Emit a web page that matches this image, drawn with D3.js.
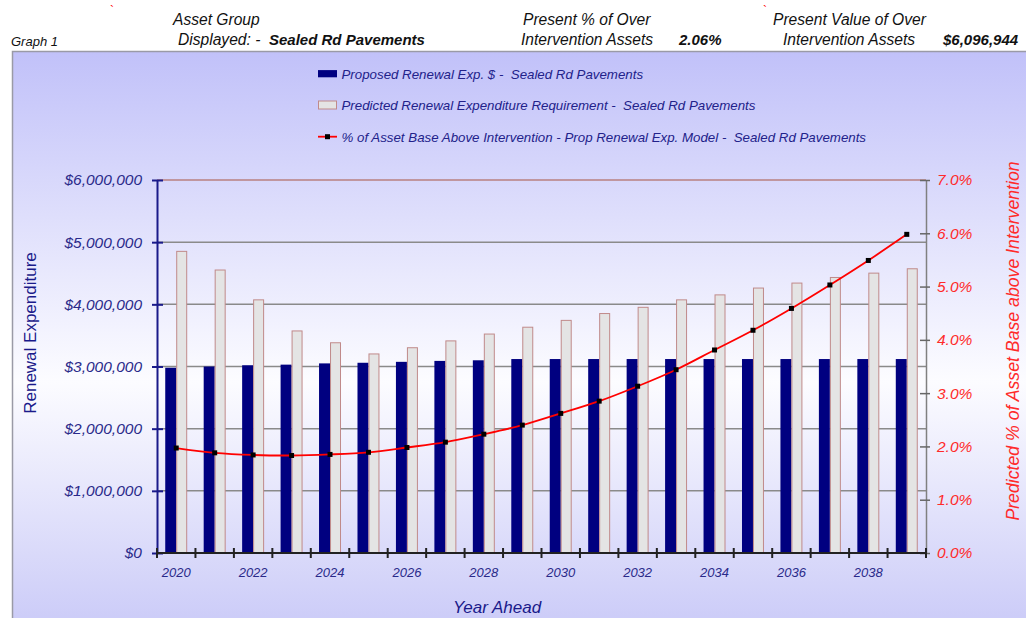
<!DOCTYPE html>
<html lang="en">
<head>
<meta charset="UTF-8">
<title>Graph 1</title>
<script src="https://d3js.org/d3.v7.min.js"></script>
<style>
  html, body { margin: 0; padding: 0; background: #fff; }
  svg { display: block; font-family: "Liberation Sans", Arial, sans-serif; }
  .hdr { font-size: 15.6px; font-style: italic; fill: #111; }
  .hdr.b { font-weight: bold; font-size: 15px; }
  .leg { font-size: 13.3px; font-style: italic; fill: #22228a; }
  .lt { font-size: 15.5px; font-style: italic; fill: #2a2a8a; }
  .rt { font-size: 15.5px; font-style: italic; fill: #ff2a2a; }
  .yr { font-size: 13px; font-style: italic; fill: #2a2a8a; }
</style>
</head>
<body>
<svg id="chart" width="1026" height="618"></svg>
<script>
// chart values
const years = d3.range(2020, 2040);
const yearLabels = years.filter(y => y % 2 === 0);
const proposed = [2.98, 3.00, 3.02, 3.03, 3.05, 3.06, 3.075, 3.09, 3.10, 3.12,
                  3.12, 3.12, 3.12, 3.12, 3.12, 3.12, 3.12, 3.12, 3.12, 3.12].map(v => v * 1e6);
const predicted = [4.86, 4.56, 4.08, 3.58, 3.39, 3.21, 3.31, 3.42, 3.53, 3.64,
                   3.75, 3.86, 3.96, 4.08, 4.16, 4.27, 4.35, 4.44, 4.51, 4.58].map(v => v * 1e6);
const pctAbove = [1.97, 1.88, 1.84, 1.83, 1.85, 1.89, 1.98, 2.08, 2.23, 2.40,
                  2.62, 2.85, 3.13, 3.44, 3.81, 4.18, 4.59, 5.03, 5.49, 5.98];
const dollarTicks = [0, 1e6, 2e6, 3e6, 4e6, 5e6, 6e6];
const pctTicks = [0, 1, 2, 3, 4, 5, 6, 7];
const legendLabels = [
  "Proposed Renewal Exp. $ -  Sealed Rd Pavements",
  "Predicted Renewal Expenditure Requirement -  Sealed Rd Pavements",
  "% of Asset Base Above Intervention - Prop Renewal Exp. Model -  Sealed Rd Pavements"
];

const svg = d3.select('#chart');
const plotL = 157, plotR = 926, plotT = 180, plotB = 553;

// background panel with gradient
const grad = svg.append('defs').append('linearGradient')
  .attr('id', 'bg').attr('x1', 0).attr('y1', 0).attr('x2', 0).attr('y2', 1);
grad.append('stop').attr('offset', '0%').attr('stop-color', '#c1c1f9');
grad.append('stop').attr('offset', '55%').attr('stop-color', '#fcfcff');
grad.append('stop').attr('offset', '100%').attr('stop-color', '#c6c6f7');

svg.append('rect')
  .attr('x', 12.5).attr('y', 51.5).attr('width', 1030).attr('height', 600)
  .attr('fill', 'url(#bg)').attr('stroke', '#9a9aa6').attr('stroke-width', 1.5);

// header
const hdr = svg.append('g');
hdr.append('text').attr('class', 'hdr').attr('x', 11).attr('y', 46).style('font-size', '13px').text('Graph  1');
hdr.append('text').attr('class', 'hdr').attr('x', 173).attr('y', 25).text('Asset Group');
hdr.append('text').attr('class', 'hdr').attr('x', 178).attr('y', 45).text('Displayed: -');
hdr.append('text').attr('class', 'hdr b').attr('x', 269).attr('y', 45).text('Sealed Rd Pavements');
hdr.append('text').attr('class', 'hdr').attr('x', 523).attr('y', 25).text('Present % of Over');
hdr.append('text').attr('class', 'hdr').attr('x', 521).attr('y', 45).text('Intervention Assets');
hdr.append('text').attr('class', 'hdr b').attr('x', 679).attr('y', 45).text('2.06%');
hdr.append('text').attr('class', 'hdr').attr('x', 773).attr('y', 25).text('Present Value of Over');
hdr.append('text').attr('class', 'hdr').attr('x', 783).attr('y', 45).text('Intervention Assets');
hdr.append('text').attr('class', 'hdr b').attr('x', 943).attr('y', 45).text('$6,096,944');
hdr.selectAll('.tick-mark').data([110, 763]).enter().append('text')
  .attr('x', d => d).attr('y', 15).attr('fill', 'red').style('font-size', '12px').text('`');

// scales
const x = d3.scaleBand().domain(years).range([plotL, plotR]).padding(0);
const xi = d3.scaleBand().domain(['proposed', 'predicted']).range([0, x.bandwidth()])
  .paddingInner(0).paddingOuter(0.75);
const yL = d3.scaleLinear().domain([0, 6e6]).range([plotB, plotT]);
const yR = d3.scaleLinear().domain([0, 7]).range([plotB, plotT]);

// gridlines
svg.append('g').selectAll('line').data(dollarTicks.filter(d => d > 0)).enter().append('line')
  .attr('x1', plotL).attr('x2', plotR)
  .attr('y1', d => yL(d)).attr('y2', d => yL(d))
  .attr('stroke', d => d === 6e6 ? '#b88080' : '#8a8a8a').attr('stroke-width', 1.5);

// bars
svg.append('g').selectAll('rect').data(years).enter().append('rect')
  .attr('x', d => x(d) + xi('proposed'))
  .attr('width', xi.bandwidth())
  .attr('y', (d, i) => yL(proposed[i]))
  .attr('height', (d, i) => plotB - yL(proposed[i]))
  .attr('fill', '#000080');

svg.append('g').selectAll('rect').data(years).enter().append('rect')
  .attr('x', d => x(d) + xi('predicted') + 0.5)
  .attr('width', xi.bandwidth() - 1)
  .attr('y', (d, i) => yL(predicted[i]) + 0.5)
  .attr('height', (d, i) => plotB - yL(predicted[i]) - 0.5)
  .attr('fill', '#e4e4e4').attr('stroke', '#c08a8a').attr('stroke-width', 1);

// line
const cx = d => x(d) + x.bandwidth() / 2;
const line = d3.line()
  .x(d => cx(d))
  .y((d, i) => yR(pctAbove[i]))
  .curve(d3.curveCatmullRom);
svg.append('path').datum(years)
  .attr('d', line).attr('fill', 'none').attr('stroke', '#ff0000').attr('stroke-width', 1.8);
svg.append('g').selectAll('rect').data(years).enter().append('rect')
  .attr('x', d => cx(d) - 2.5).attr('y', (d, i) => yR(pctAbove[i]) - 2.5)
  .attr('width', 5).attr('height', 5).attr('fill', '#000');

// left axis
const gL = svg.append('g').attr('transform', `translate(${plotL},0)`)
  .call(d3.axisLeft(yL).tickValues(dollarTicks).tickSize(0).tickPadding(15)
    .tickFormat(d => '$' + d3.format(',')(d)));
gL.attr('font-family', null).attr('font-size', null);
gL.select('.domain').attr('stroke', '#1a1a8a').attr('stroke-width', 2);
gL.selectAll('.tick text').attr('class', 'lt').attr('fill', null);
gL.selectAll('.tick').append('line').attr('x1', -5).attr('x2', 6).attr('stroke', '#1a1a8a').attr('stroke-width', 2);

// right axis
const gR = svg.append('g').attr('transform', `translate(${plotR},0)`)
  .call(d3.axisRight(yR).tickValues(pctTicks).tickSize(0).tickPadding(11)
    .tickFormat(d => d3.format('.1f')(d) + '%'));
gR.attr('font-family', null).attr('font-size', null);
gR.select('.domain').attr('stroke', '#808080').attr('stroke-width', 1.5);
gR.selectAll('.tick text').attr('class', 'rt').attr('fill', null);
gR.selectAll('.tick').append('line').attr('x1', -6).attr('x2', 4).attr('stroke', '#666').attr('stroke-width', 1.5);

// bottom axis
const gB = svg.append('g').attr('transform', `translate(0,${plotB})`);
gB.append('line').attr('x1', plotL).attr('x2', plotR).attr('stroke', '#222').attr('stroke-width', 2);
gB.selectAll('line.t').data(years.concat([2040])).enter().append('line')
  .attr('class', 't')
  .attr('x1', d => d === 2040 ? plotR : x(d)).attr('x2', d => d === 2040 ? plotR : x(d))
  .attr('y1', -5).attr('y2', 5).attr('stroke', '#222').attr('stroke-width', 2);
gB.selectAll('text').data(yearLabels).enter().append('text')
  .attr('class', 'yr').attr('x', d => cx(d)).attr('y', 24).attr('text-anchor', 'middle')
  .text(d => d);

// axis titles
svg.append('text').attr('transform', 'translate(36,333) rotate(-90)')
  .attr('text-anchor', 'middle').attr('fill', '#1a1a8a').style('font-size', '17px')
  .text('Renewal Expenditure');
svg.append('text').attr('x', 497).attr('y', 613).attr('text-anchor', 'middle')
  .attr('fill', '#1a1a8a').style('font-size', '17px').style('font-style', 'italic')
  .text('Year Ahead');
svg.append('text').attr('transform', 'translate(1019,341) rotate(-90)')
  .attr('text-anchor', 'middle').attr('fill', '#ff2a2a').style('font-size', '17.7px').style('font-style', 'italic')
  .text('Predicted % of Asset Base above Intervention');

// legend
const leg = svg.append('g').attr('transform', 'translate(318,0)');
const rows = [73.7, 105, 136.7];
leg.append('rect').attr('x', 0).attr('y', rows[0] - 3.6).attr('width', 19).attr('height', 7.2).attr('fill', '#000080');
leg.append('rect').attr('x', 0.5).attr('y', rows[1] - 4).attr('width', 18).attr('height', 8)
  .attr('fill', '#e4e4e4').attr('stroke', '#c08a8a');
leg.append('line').attr('x1', 0).attr('x2', 19).attr('y1', rows[2]).attr('y2', rows[2])
  .attr('stroke', '#ff0000').attr('stroke-width', 1.8);
leg.append('rect').attr('x', 7).attr('y', rows[2] - 2.5).attr('width', 5).attr('height', 5).attr('fill', '#000');
leg.selectAll('text').data(legendLabels).enter().append('text')
  .attr('class', 'leg').attr('x', 23.5).attr('y', (d, i) => rows[i] + 4.8)
  .style('white-space', 'pre').text(d => d);
</script>
</body>
</html>
